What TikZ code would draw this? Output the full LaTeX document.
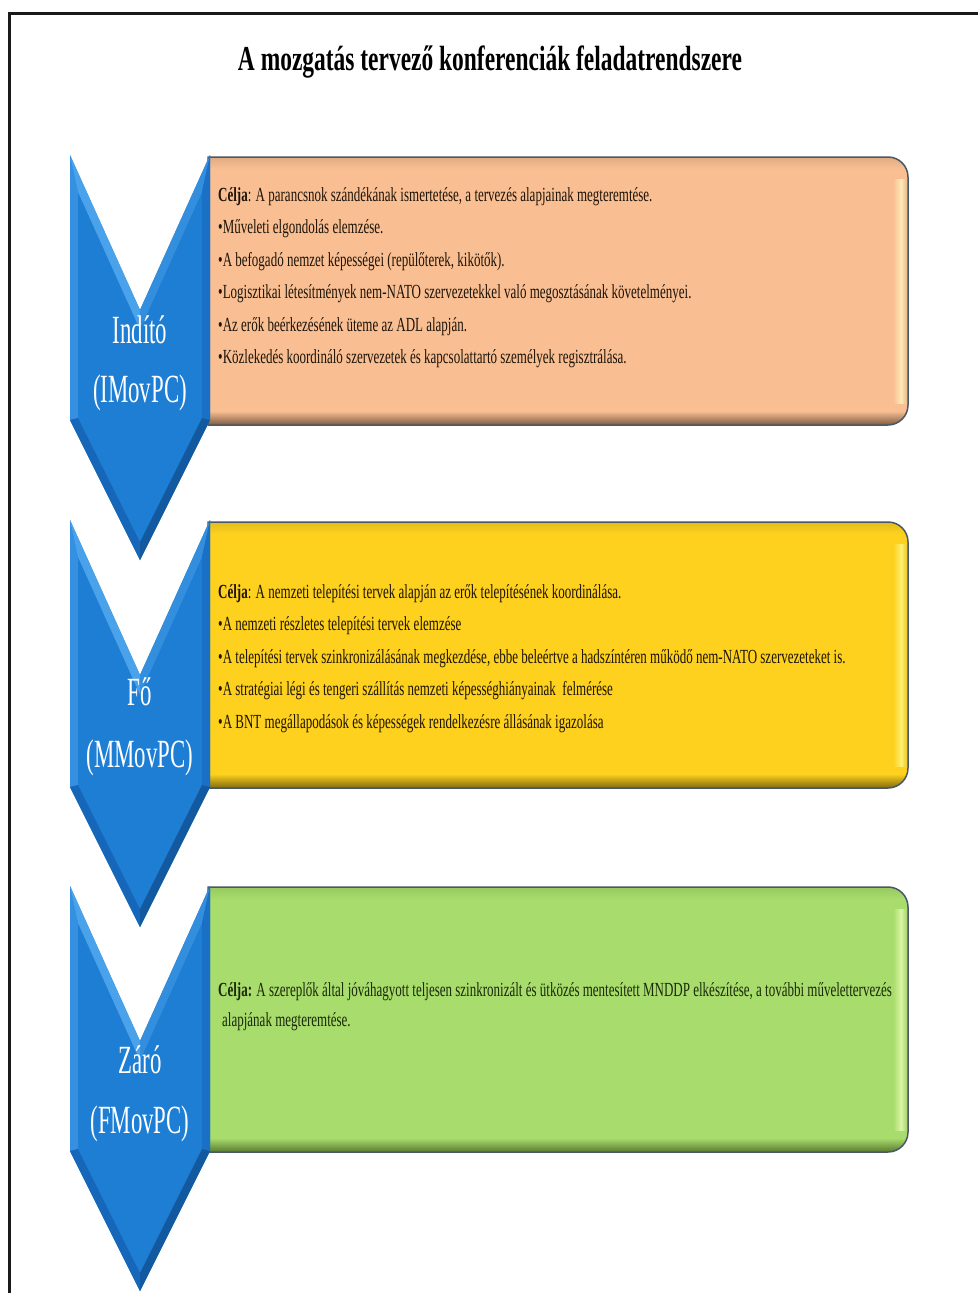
\documentclass[tikz,border=0pt]{standalone}
\usepackage{fontspec}
\newfontfamily\bodyfont{Liberation Serif}[FakeStretch=0.65]
\newfontfamily\titlefont{Liberation Serif}[FakeStretch=0.67]
\newfontfamily\chevfont{Liberation Serif}[FakeStretch=0.57]

\definecolor{frameline}{HTML}{1A1A1A}
\definecolor{boxline}{HTML}{4A5866}
\definecolor{peach}{HTML}{F9BF93}
\definecolor{peachhi}{HTML}{FFE9B5}
\definecolor{peachlo}{HTML}{7D5A40}
\definecolor{sun}{HTML}{FDD11D}
\definecolor{sunhi}{HTML}{FFF070}
\definecolor{sunlo}{HTML}{806A10}
\definecolor{leaf}{HTML}{A8DC6C}
\definecolor{leafhi}{HTML}{DAF5A4}
\definecolor{leaflo}{HTML}{5A7A30}
\definecolor{chevmid}{HTML}{1E7ED4}
\definecolor{chevleft}{HTML}{3590E2}
\definecolor{chevtopl}{HTML}{4AA2EA}
\definecolor{chevtopr}{HTML}{338EDE}
\definecolor{chevright}{HTML}{1A70C4}
\definecolor{chevbotl}{HTML}{1666BA}
\definecolor{chevbotr}{HTML}{13599F}
\definecolor{ink}{HTML}{1E1408}
\definecolor{inkgreen}{HTML}{1A2A08}

\tikzset{
  % box outline: square on the left, rounded on the right
  boxshape/.style 2 args={insert path={
    (208,#1) -- (888,#1) arc[start angle=-90,end angle=0,radius=20]
    -- (908,#2-20) arc[start angle=0,end angle=90,radius=20]
    -- (208,#2) -- cycle}},
  line/.style={anchor=base west, inner sep=0pt, font=\bodyfont\fontsize{20}{23}\selectfont, text=ink},
  chevlabel/.style={inner sep=0pt, text=white, font=\chevfont\fontsize{40}{44}\selectfont},
}

% one bevelled box: top, bottom, base colour, highlight, shadow
\newcommand\bevbox[5]{%
  \fill[#3, boxshape={#1}{#2}];
  \begin{scope}
    \clip[boxshape={#1}{#2}];
    \shade[top color=#3!80!#5, bottom color=#3] (200,#1) rectangle (912,#1+12);
    \shade[top color=#3, bottom color=#5] (200,#2-14) rectangle (912,#2);
    \shade[left color=#3, right color=#4] (893,#1+22) rectangle (901,#2-22);
    \shade[left color=#4, right color=#3!85!#5] (901,#1+22) rectangle (908,#2-22);
  \end{scope}
  \draw[boxline, line width=1.5, boxshape={#1}{#2}];
}

% one bevelled chevron: top edge and bottom corner height
\newcommand\bevchev[2]{%
  \fill[chevmid] (70,#1) -- (140,#1+155) -- (210,#1) -- (210,#2) -- (140,#2+140) -- (70,#2) -- cycle;
  \fill[chevleft] (70,#1) -- (70,#2) -- (78,#2-2) -- (78,#1+37) -- cycle;
  \fill[chevtopl] (70,#1) -- (78,#1+37) -- (140,#1+174.5) -- (140,#1+155) -- cycle;
  \fill[chevtopr] (210,#1) -- (202,#1+37) -- (140,#1+174.5) -- (140,#1+155) -- cycle;
  \fill[chevright] (210,#1) -- (210,#2) -- (202,#2-2) -- (202,#1+37) -- cycle;
  \fill[chevbotl] (70,#2) -- (140,#2+140) -- (140,#2+122) -- (78,#2-2) -- cycle;
  \fill[chevbotr] (210,#2) -- (140,#2+140) -- (140,#2+122) -- (202,#2-2) -- cycle;
}

\begin{document}
\begin{tikzpicture}[x=1pt, y=-1pt]
\useasboundingbox (0,0) rectangle (978,1293);
\fill[white] (0,0) rectangle (978,1293);

% outer frame (runs off the right and bottom)
\draw[frameline, line width=3] (9,1293) -- (9,13) -- (978,13);

% title
\node[inner sep=0pt, font=\titlefont\bfseries\fontsize{35}{38}\selectfont] (title) at (490,62)
  {A mozgatás tervező konferenciák feladatrendszere};

% coloured boxes
\bevbox{157}{425}{peach}{peachhi}{peachlo}
\bevbox{522}{788}{sun}{sunhi}{sunlo}
\bevbox{887}{1152}{leaf}{leafhi}{leaflo}

% chevrons, drawn over the square left ends of the boxes
\bevchev{155}{420}
\bevchev{520}{787}
\bevchev{886}{1151}

% chevron labels
\node[chevlabel] (l1a) at (140,330) {Indító};
\node[chevlabel] (l1b) at (140,393) {(IMovPC)};
\node[chevlabel] (l2a) at (140,692) {Fő};
\node[chevlabel] (l2b) at (140,758) {(MMovPC)};
\node[chevlabel] (l3a) at (140,1060) {Záró};
\node[chevlabel] (l3b) at (140,1124) {(FMovPC)};

% first box
\node[line] (a1) at (218,201) {\textbf{Célja}: A parancsnok szándékának ismertetése, a tervezés alapjainak megteremtése.};
\node[line] (a2) at (218,233.5) {•Műveleti elgondolás elemzése.};
\node[line] (a3) at (218,266) {•A befogadó nemzet képességei (repülőterek, kikötők).};
\node[line] (a4) at (218,298.5) {•Logisztikai létesítmények nem-NATO szervezetekkel való megosztásának követelményei.};
\node[line] (a5) at (218,331) {•Az erők beérkezésének üteme az ADL alapján.};
\node[line] (a6) at (218,363) {•Közlekedés koordináló szervezetek és kapcsolattartó személyek regisztrálása.};

% second box
\node[line] (b1) at (218,598) {\textbf{Célja}: A nemzeti telepítési tervek alapján az erők telepítésének koordinálása.};
\node[line] (b2) at (218,630.5) {•A nemzeti részletes telepítési tervek elemzése};
\node[line] (b3) at (218,663) {•A telepítési tervek szinkronizálásának megkezdése, ebbe beleértve a hadszíntéren működő nem-NATO szervezeteket is.};
\node[line] (b4) at (218,695.5) {•A stratégiai légi és tengeri szállítás nemzeti képességhiányainak\ \ felmérése};
\node[line] (b5) at (218,728) {•A BNT megállapodások és képességek rendelkezésre állásának igazolása};

% third box
\node[line, text=inkgreen] (c1) at (218,996) {\textbf{Célja:} A szereplők által jóváhagyott teljesen szinkronizált és ütközés mentesített MNDDP elkészítése, a további művelettervezés};
\node[line, text=inkgreen] (c2) at (222,1026) {alapjának megteremtése.};
\end{tikzpicture}
\end{document}
